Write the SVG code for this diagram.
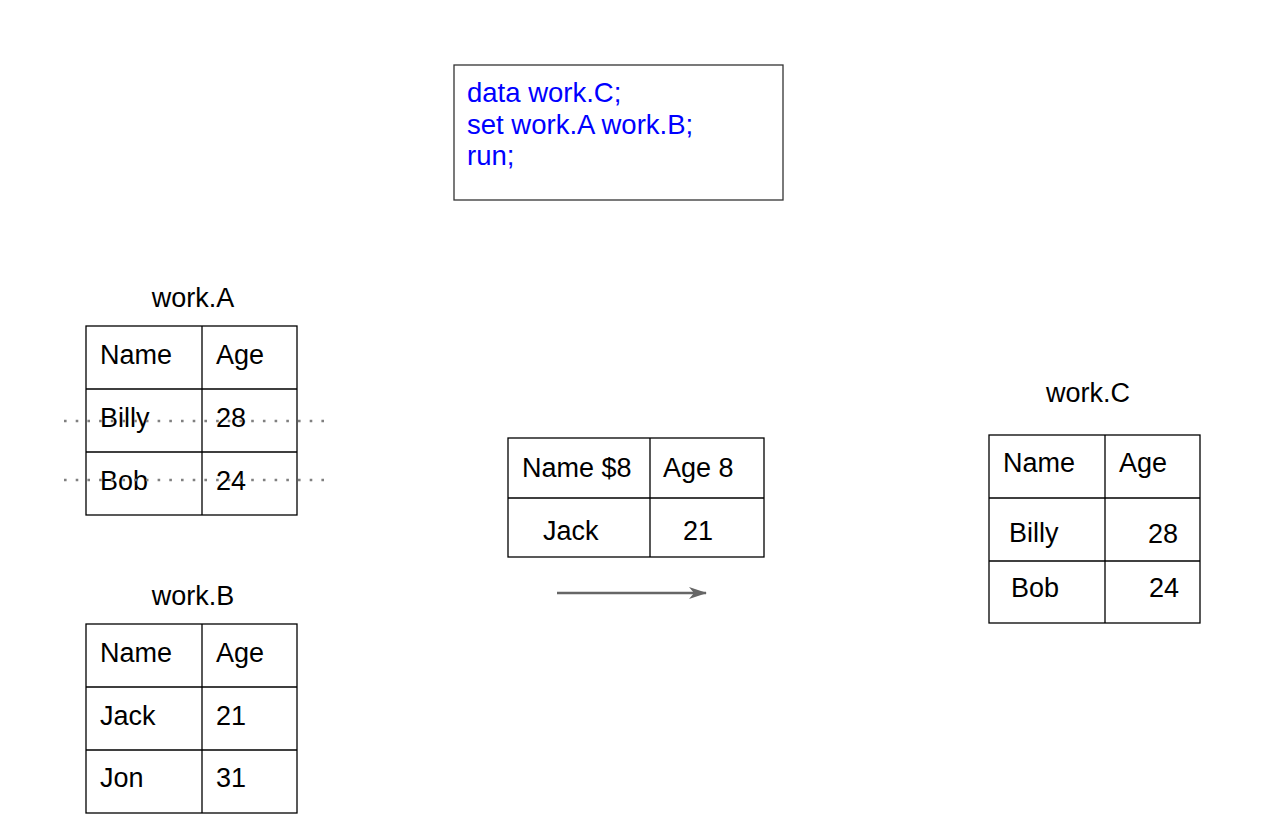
<svg xmlns="http://www.w3.org/2000/svg" width="1268" height="838" viewBox="0 0 1268 838">
<style>
text{font-family:"Liberation Sans",Arial,sans-serif;font-size:27px;fill:#000}
.code{fill:#0000ff;font-size:27.5px}
.cell{fill:#fff;stroke:#000;stroke-width:1.3}
.ln{stroke:#000;stroke-width:1.3;fill:none}
.dot{stroke:#808080;stroke-width:2.6;stroke-dasharray:2.6 9.1;fill:none}
.ttl{text-anchor:middle}
</style>
<defs>
<marker id="ah" viewBox="0 0 18 12" refX="17" refY="6" markerWidth="18" markerHeight="12" markerUnits="userSpaceOnUse" orient="auto">
<path d="M0,0 L18,6 L0,12 L5,6 Z" fill="#666"/>
</marker>
</defs>
<rect width="1268" height="838" fill="#fff"/>

<g id="code">
<rect x="454" y="65" width="329" height="135" fill="#fff" stroke="#333" stroke-width="1.3"/>
<text class="code" x="467" y="102">data work.C;</text>
<text class="code" x="467" y="134">set work.A work.B;</text>
<text class="code" x="467" y="165">run;</text>
</g>

<g id="tableA">
<text class="ttl" x="193" y="307">work.A</text>
<rect class="cell" x="86" y="326" width="211" height="189"/>
<path class="ln" d="M202,326V515M86,389H297M86,452H297"/>
<text x="100" y="364">Name</text>
<text x="216" y="364">Age</text>
<text x="100" y="427">Billy</text>
<text x="216" y="427">28</text>
<text x="100" y="490">Bob</text>
<text x="216" y="490">24</text>
<path class="dot" d="M64,421H326M64,480H326"/>
</g>

<g id="tableB">
<text class="ttl" x="193" y="605">work.B</text>
<rect class="cell" x="86" y="624" width="211" height="189"/>
<path class="ln" d="M202,624V813M86,687H297M86,750H297"/>
<text x="100" y="662">Name</text>
<text x="216" y="662">Age</text>
<text x="100" y="725">Jack</text>
<text x="216" y="725">21</text>
<text x="100" y="787">Jon</text>
<text x="216" y="787">31</text>
</g>

<g id="pdv">
<rect class="cell" x="508" y="438" width="256" height="119"/>
<path class="ln" d="M650,438V557M508,498H764"/>
<text x="522" y="477">Name $8</text>
<text x="663" y="477">Age 8</text>
<text x="543" y="540">Jack</text>
<text x="683" y="540">21</text>
</g>

<g id="tableC">
<text class="ttl" x="1088" y="402">work.C</text>
<rect class="cell" x="989" y="435" width="211" height="188"/>
<path class="ln" d="M1105,435V623M989,498H1200"/>
<path class="ln" d="M989,561H1200" stroke-width="2"/>
<text x="1003" y="472">Name</text>
<text x="1119" y="472">Age</text>
<text x="1009" y="542">Billy</text>
<text x="1148" y="543">28</text>
<text x="1011" y="597">Bob</text>
<text x="1149" y="597">24</text>
</g>

<g id="connectors">
<path d="M557,593H706" stroke="#666" stroke-width="2.4" fill="none" marker-end="url(#ah)"/>
</g>
</svg>
